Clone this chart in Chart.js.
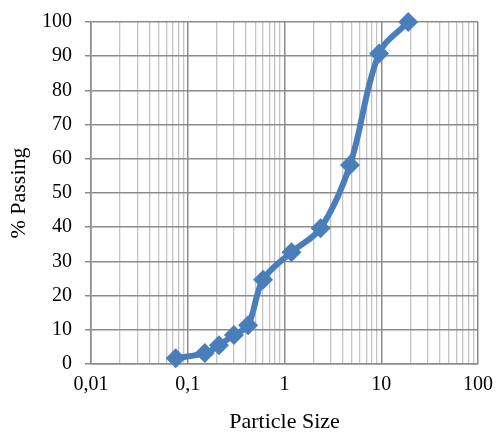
<!DOCTYPE html>
<html>
<head>
<meta charset="utf-8">
<script src="https://cdn.jsdelivr.net/npm/chart.js@4"></script>
<style>
  html, body { margin: 0; padding: 0; background: #fff; }
  #wrap { width: 497px; height: 433px; }
</style>
</head>
<body>
<div id="wrap"><canvas id="gradChart" width="497" height="433"></canvas></div>
<script>
// sieve sizes (mm) and % passing
const sizes = [0.075, 0.15, 0.21, 0.3, 0.42, 0.6, 1.18, 2.36, 4.75, 9.5, 19];
const passing = [1.7, 3.2, 5.5, 8.5, 11.3, 24.6, 32.7, 39.7, 58.2, 90.8, 100];
const xTickLabels = ['0,01', '0,1', '1', '10', '100'];
const decades = [0.01, 0.1, 1, 10, 100];

const lineColor = '#4a7ebb';
const serif = '"Liberation Serif", "Times New Roman", serif';

function isDecade(v) {
    return decades.some(d => Math.abs(v - d) / d < 1e-6);
}

const ctx = document.getElementById('gradChart').getContext('2d');
const chart = new Chart(ctx, {
    type: 'line',
    data: {
        datasets: [{
            data: sizes.map((s, i) => ({ x: s, y: passing[i] })),
            borderColor: lineColor,
            backgroundColor: lineColor,
            borderWidth: 6,
            tension: 0.35,
            pointStyle: 'rectRot',
            pointRadius: 10,
            pointHoverRadius: 10,
            pointBorderWidth: 0,
            clip: false
        }]
    },
    options: {
        responsive: false,
        animation: false,
        layout: { autoPadding: false, padding: { left: 0, top: 22, right: 19, bottom: 0 } },
        plugins: { legend: { display: false }, tooltip: { enabled: false } },
        scales: {
            x: {
                type: 'logarithmic',
                min: 0.01,
                max: 100,
                afterBuildTicks: function (scale) {
                    const ticks = [];
                    for (let d = 0; d < 4; d++) {
                        for (let m = 1; m < 10; m++) {
                            ticks.push({ value: m * decades[d] });
                        }
                    }
                    ticks.push({ value: 100 });
                    scale.ticks = ticks;
                },
                afterFit: function (scale) {
                    scale.height = 69;
                    scale.paddingLeft = 0;
                    scale.paddingRight = 0;
                },
                grid: {
                    color: c => isDecade(c.tick.value) ? '#8c8c8c' : '#c4c4c4',
                    lineWidth: c => isDecade(c.tick.value) ? 1.5 : 1.3,
                    drawTicks: false
                },
                border: { color: '#8c8c8c', width: 1.5 },
                ticks: {
                    autoSkip: false,
                    maxRotation: 0,
                    padding: 9,
                    color: '#000',
                    font: { family: serif, size: 20 },
                    callback: function (v) {
                        const i = decades.findIndex(d => Math.abs(v - d) / d < 1e-6);
                        return i >= 0 ? xTickLabels[i] : '';
                    }
                },
                title: {
                    display: true,
                    text: 'Particle Size',
                    color: '#000',
                    font: { family: serif, size: 22, lineHeight: 1 },
                    padding: { top: 0, bottom: 0 }
                }
            },
            y: {
                min: 0,
                max: 100,
                afterFit: function (scale) {
                    scale.width = 91;
                    scale.paddingTop = 0;
                    scale.paddingBottom = 0;
                },
                ticks: {
                    stepSize: 10,
                    padding: 13,
                    color: '#000',
                    font: { family: serif, size: 20 }
                },
                grid: {
                    color: '#8c8c8c',
                    lineWidth: 1.5,
                    tickLength: 6
                },
                border: { color: '#8c8c8c', width: 1.5 },
                title: {
                    display: true,
                    text: '% Passing',
                    color: '#000',
                    font: { family: serif, size: 22, lineHeight: 1 },
                    padding: { top: 8, bottom: 0 }
                }
            }
        }
    }
});
</script>
</body>
</html>
